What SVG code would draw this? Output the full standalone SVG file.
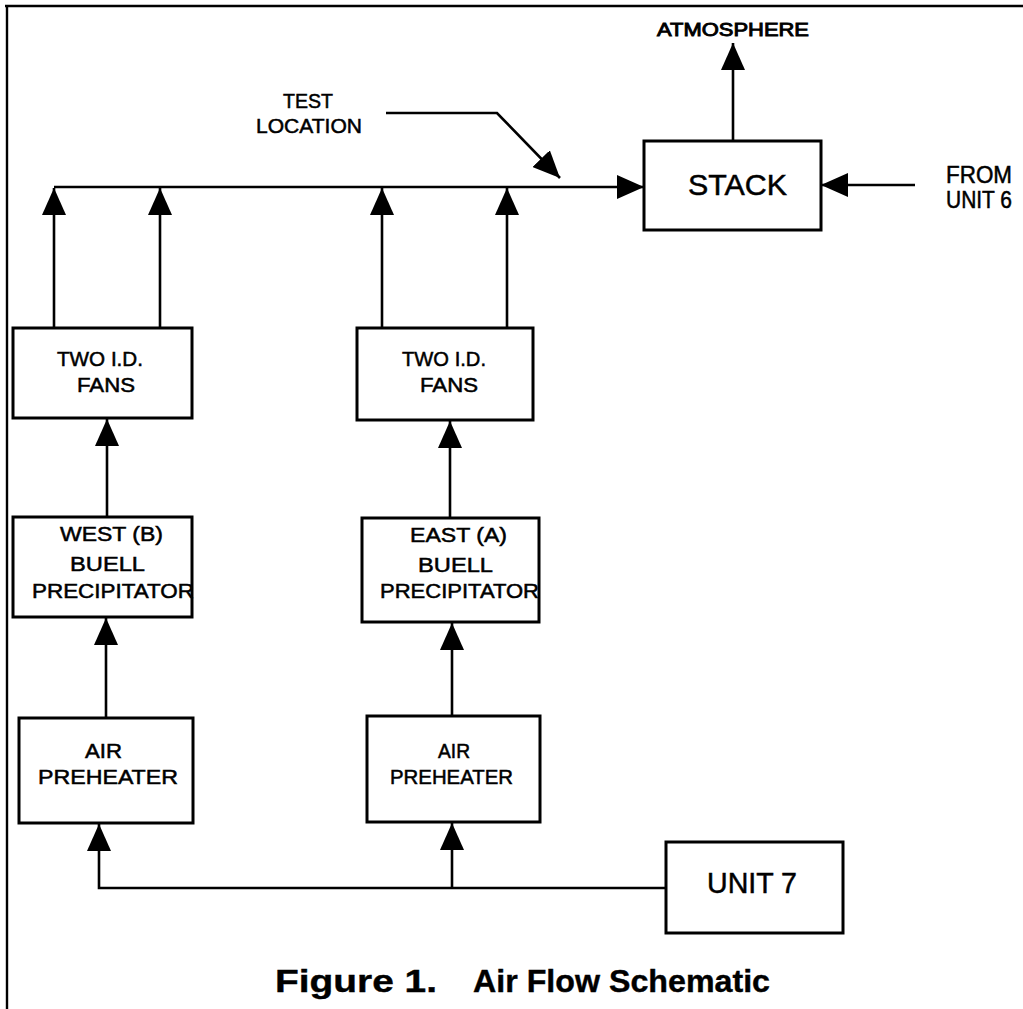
<svg xmlns="http://www.w3.org/2000/svg" width="1023" height="1009" viewBox="0 0 1023 1009">
  <style>
    .box { fill: #ffffff; stroke: #000000; stroke-width: 3; }
    .flow { fill: none; stroke: #000000; stroke-width: 2.6; }
    .lbl { font-family: "Liberation Sans", Arial, Helvetica, sans-serif; fill: #000000; stroke: #000000; stroke-width: 0.5; text-anchor: start; }
    .cap { font-family: "Liberation Sans", Arial, Helvetica, sans-serif; font-weight: bold; fill: #000000; stroke: #000000; stroke-width: 0.4; }
  </style>
  <defs>
    <marker id="head" markerUnits="userSpaceOnUse" markerWidth="28" markerHeight="24" refX="27" refY="12" orient="auto" viewBox="0 0 28 24">
      <path d="M0,0 L27,12 L0,24 Z" fill="#000000"/>
    </marker>
  </defs>

  <rect x="0" y="0" width="1023" height="1009" fill="#ffffff"/>

  <!-- page frame (top and left edges) -->
  <g id="frame">
    <line x1="5" y1="6" x2="1023" y2="6" stroke="#000" stroke-width="2.6"/>
    <line x1="7" y1="5" x2="7" y2="1009" stroke="#000" stroke-width="2.4"/>
  </g>

  <!-- connectors -->
  <g id="connectors">
    <!-- header duct into the stack -->
    <line class="flow" x1="54" y1="187" x2="644" y2="187" marker-end="url(#head)"/>
    <!-- fan outlets up to the header -->
    <line class="flow" x1="54" y1="328" x2="54" y2="188" marker-end="url(#head)"/>
    <line class="flow" x1="160" y1="328" x2="160" y2="188" marker-end="url(#head)"/>
    <line class="flow" x1="382" y1="328" x2="382" y2="188" marker-end="url(#head)"/>
    <line class="flow" x1="507" y1="328" x2="507" y2="188" marker-end="url(#head)"/>
    <!-- stack to atmosphere -->
    <line class="flow" x1="733" y1="141" x2="733" y2="43" marker-end="url(#head)"/>
    <!-- from unit 6 into the stack -->
    <line class="flow" x1="915" y1="185" x2="821" y2="185" marker-end="url(#head)"/>
    <!-- test location pointer -->
    <polyline class="flow" points="386,113 497,113 560,178" marker-end="url(#head)"/>
    <!-- precipitators to fans -->
    <line class="flow" x1="107" y1="517" x2="107" y2="419" marker-end="url(#head)"/>
    <line class="flow" x1="450" y1="518" x2="450" y2="421" marker-end="url(#head)"/>
    <!-- preheaters to precipitators -->
    <line class="flow" x1="106" y1="718" x2="106" y2="618" marker-end="url(#head)"/>
    <line class="flow" x1="452" y1="716" x2="452" y2="623" marker-end="url(#head)"/>
    <!-- unit 7 to preheaters -->
    <polyline class="flow" points="666,888 99,888 99,824" marker-end="url(#head)"/>
    <line class="flow" x1="452" y1="888" x2="452" y2="823" marker-end="url(#head)"/>
  </g>

  <g id="stack">
    <rect class="box" x="644" y="141" width="177" height="89"/>
    <text class="lbl" x="688" y="195" font-size="30" textLength="99" lengthAdjust="spacingAndGlyphs">STACK</text>
  </g>

  <g id="atmosphere">
    <text class="lbl" x="657" y="36" font-size="18" textLength="152" lengthAdjust="spacingAndGlyphs" style="stroke-width:0.9">ATMOSPHERE</text>
  </g>

  <g id="from-unit-6">
    <text class="lbl" x="946" y="183" font-size="23" textLength="66" lengthAdjust="spacingAndGlyphs">FROM</text>
    <text class="lbl" x="946" y="208" font-size="23" textLength="66" lengthAdjust="spacingAndGlyphs">UNIT 6</text>
  </g>

  <g id="test-location">
    <text class="lbl" x="283" y="108" font-size="20" textLength="50" lengthAdjust="spacingAndGlyphs">TEST</text>
    <text class="lbl" x="256" y="133" font-size="20" textLength="106" lengthAdjust="spacingAndGlyphs">LOCATION</text>
  </g>

  <g id="fans-west">
    <rect class="box" x="13" y="328" width="179" height="90"/>
    <text class="lbl" x="57" y="366" font-size="20" textLength="86" lengthAdjust="spacingAndGlyphs">TWO I.D.</text>
    <text class="lbl" x="77" y="392" font-size="20" textLength="58" lengthAdjust="spacingAndGlyphs">FANS</text>
  </g>

  <g id="fans-east">
    <rect class="box" x="357" y="328" width="176" height="92"/>
    <text class="lbl" x="402" y="366" font-size="20" textLength="84" lengthAdjust="spacingAndGlyphs">TWO I.D.</text>
    <text class="lbl" x="420" y="392" font-size="20" textLength="58" lengthAdjust="spacingAndGlyphs">FANS</text>
  </g>

  <g id="precipitator-west">
    <rect class="box" x="13" y="517" width="179" height="100"/>
    <text class="lbl" x="60" y="541" font-size="20" textLength="103" lengthAdjust="spacingAndGlyphs">WEST (B)</text>
    <text class="lbl" x="70" y="571" font-size="20" textLength="75" lengthAdjust="spacingAndGlyphs">BUELL</text>
    <text class="lbl" x="32" y="598" font-size="20" textLength="162" lengthAdjust="spacingAndGlyphs">PRECIPITATOR</text>
  </g>

  <g id="precipitator-east">
    <rect class="box" x="362" y="518" width="177" height="104"/>
    <text class="lbl" x="410" y="542" font-size="20" textLength="97" lengthAdjust="spacingAndGlyphs">EAST (A)</text>
    <text class="lbl" x="418" y="572" font-size="20" textLength="75" lengthAdjust="spacingAndGlyphs">BUELL</text>
    <text class="lbl" x="380" y="598" font-size="20" textLength="159" lengthAdjust="spacingAndGlyphs">PRECIPITATOR</text>
  </g>

  <g id="preheater-west">
    <rect class="box" x="19" y="718" width="174" height="105"/>
    <text class="lbl" x="85" y="758" font-size="20" textLength="37" lengthAdjust="spacingAndGlyphs">AIR</text>
    <text class="lbl" x="38" y="784" font-size="20" textLength="140" lengthAdjust="spacingAndGlyphs">PREHEATER</text>
  </g>

  <g id="preheater-east">
    <rect class="box" x="367" y="716" width="173" height="106"/>
    <text class="lbl" x="438" y="758" font-size="20" textLength="32" lengthAdjust="spacingAndGlyphs">AIR</text>
    <text class="lbl" x="390" y="784" font-size="20" textLength="123" lengthAdjust="spacingAndGlyphs">PREHEATER</text>
  </g>

  <g id="unit-7">
    <rect class="box" x="666" y="842" width="177" height="91"/>
    <text class="lbl" x="707" y="893" font-size="30" textLength="90" lengthAdjust="spacingAndGlyphs">UNIT 7</text>
  </g>

  <g id="caption">
    <text class="cap" x="275" y="992" font-size="32" textLength="162" lengthAdjust="spacingAndGlyphs">Figure 1.</text>
    <text class="cap" x="473" y="992" font-size="32" textLength="297" lengthAdjust="spacingAndGlyphs">Air Flow Schematic</text>
  </g>
</svg>
